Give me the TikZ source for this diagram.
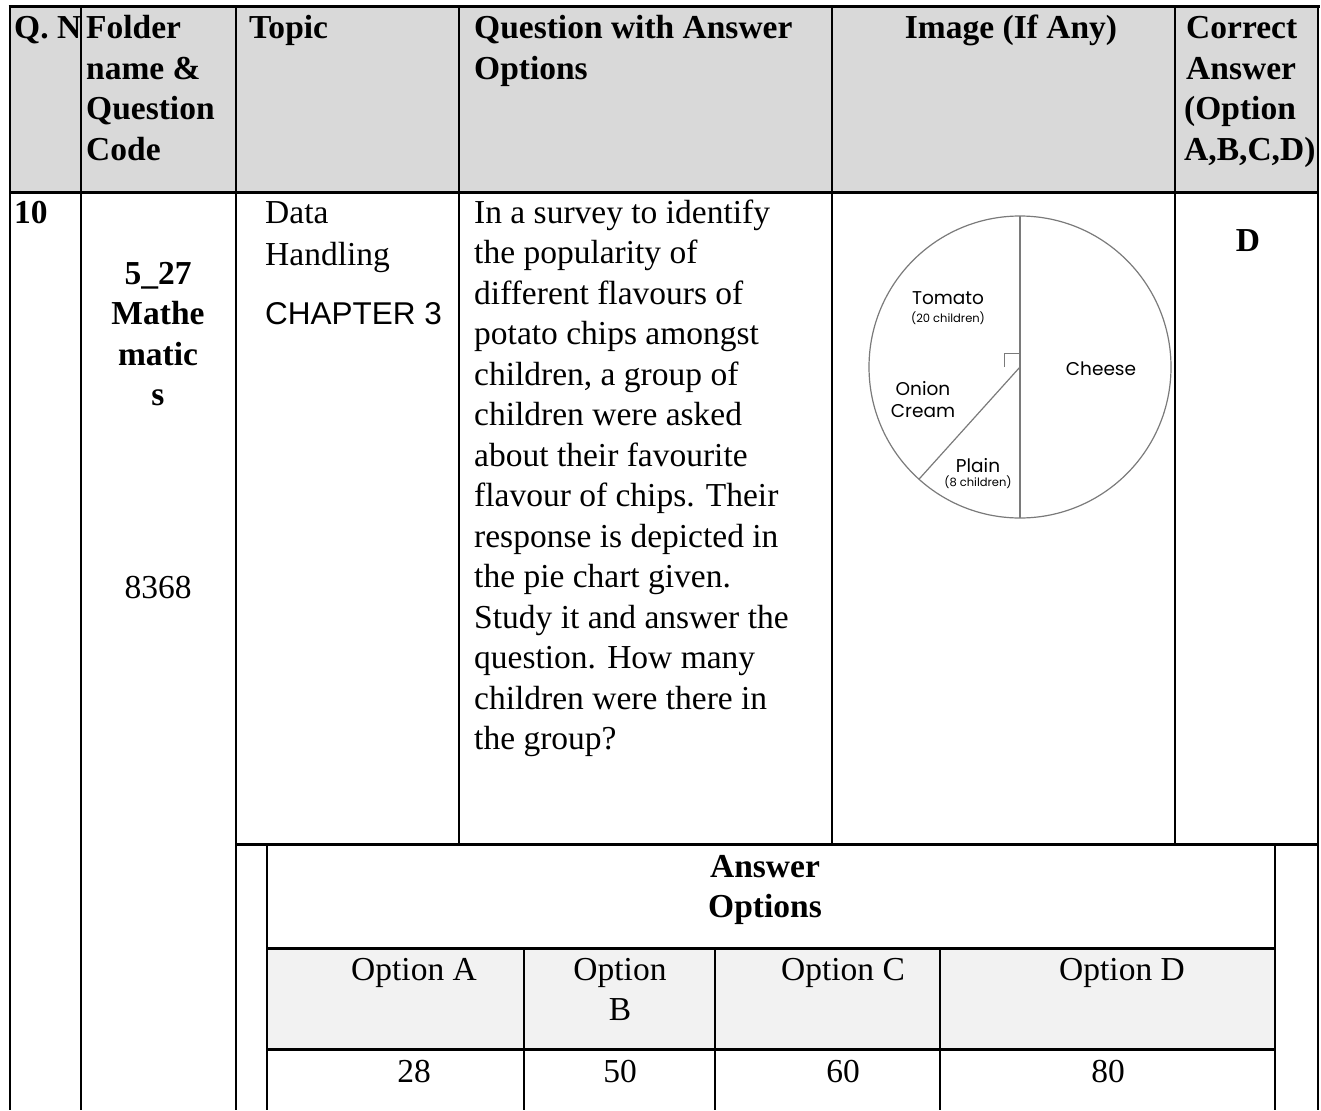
\documentclass[tikz,border=0pt]{standalone}
\usepackage{fontspec}
\setmainfont{Liberation Serif}
\newfontfamily\arialf{Liberation Sans}
\newfontfamily\pief{Poppins}
\definecolor{hdrgray}{HTML}{D9D9D9}
\definecolor{optgray}{HTML}{F2F2F2}
\definecolor{piegray}{HTML}{7A7A7A}
\begin{document}
\begin{tikzpicture}[x=1pt,y=-1pt,
  tl/.style={line width=2pt},
  tk/.style={line width=3pt},
  body/.style={font=\fontsize{33.5}{40.5}\selectfont, inner sep=0pt},
  bbody/.style={font=\fontsize{33.5}{40.5}\selectfont\bfseries, inner sep=0pt},
  chap/.style={font=\arialf\fontsize{31.5}{38}\selectfont, inner sep=0pt},
  pl/.style={font=\pief\fontsize{18.5}{21}\selectfont, inner sep=0pt},
  ps/.style={font=\pief\fontsize{11.5}{13}\selectfont, inner sep=0pt},
  pieline/.style={draw=piegray, line width=1.2pt}
]
\useasboundingbox (0,0) rectangle (1321,1110);
% fills
\fill[hdrgray] (10,7) rectangle (1318,192);
\fill[optgray] (267,948) rectangle (1275,1049);
% outer table lines
\draw[tk] (8.5,7) -- (1319.5,7);
\draw[tl] (10,7) -- (10,1110);
\draw[tl] (81,7) -- (81,1110);
\draw[tl] (236,7) -- (236,1110);
\draw[tl] (459,7) -- (459,844);
\draw[tl] (832,7) -- (832,844);
\draw[tl] (1175,7) -- (1175,844);
\draw[tl] (1318,7) -- (1318,1110);
\draw[tk] (9,192) -- (1319,192);
\draw[tk] (235,844) -- (1319,844);
% inner options table
\draw[tl] (267,844) -- (267,1110);
\draw[tl] (1275,844) -- (1275,1110);
\draw[tk] (266,948) -- (1276,948);
\draw[tk] (266,1049) -- (1276,1049);
\draw[tl] (524,948) -- (524,1110);
\draw[tl] (715,948) -- (715,1110);
\draw[tl] (940,948) -- (940,1110);
% header texts
\node[bbody, anchor=base west] (hq) at (14,39) {Q. N};
\node[bbody, anchor=base west] (hf1) at (86,39) {Folder};
\node[bbody, anchor=base west] (hf2) at (86,79.5) {name \&};
\node[bbody, anchor=base west] (hf3) at (86,120) {Question};
\node[bbody, anchor=base west] (hf4) at (86,160.5) {Code};
\node[bbody, anchor=base west] (ht) at (249,39) {Topic};
\node[bbody, anchor=base west] (hqa1) at (474,39) {Question with Answer};
\node[bbody, anchor=base west] (hqa2) at (474,79.5) {Options};
\node[bbody, anchor=base] (hi) at (1011,39) {Image (If Any)};
\node[bbody, anchor=base west] (hc1) at (1186,39) {Correct};
\node[bbody, anchor=base west] (hc2) at (1186,79.5) {Answer};
\node[bbody, anchor=base west] (hc3) at (1184,120) {(Option};
\node[bbody, anchor=base west] (hc4) at (1184,160.5) {A,B,C,D)};
% row texts
\node[bbody, anchor=base west] (qn) at (14,223) {10};
\node[bbody, anchor=base] (fn1) at (158,284) {5\_27};
\node[bbody, anchor=base] (fn2) at (158,324.5) {Mathe};
\node[bbody, anchor=base] (fn3) at (158,365) {matic};
\node[bbody, anchor=base] (fn4) at (158,405.5) {s};
\node[body, anchor=base] (code) at (158,598) {8368};
\node[body, anchor=base west] (tp1) at (265,223) {Data};
\node[body, anchor=base west] (tp2) at (265,265) {Handling};
\node[chap, anchor=base west] (tp3) at (265,324) {CHAPTER 3};
\node[body, anchor=base west] (q1) at (474,223) {In a survey to identify};
\node[body, anchor=base west] (q2) at (474,263.5) {the popularity of};
\node[body, anchor=base west] (q3) at (474,304) {different flavours of};
\node[body, anchor=base west] (q4) at (474,344.5) {potato chips amongst};
\node[body, anchor=base west] (q5) at (474,385) {children, a group of};
\node[body, anchor=base west] (q6) at (474,425.5) {children were asked};
\node[body, anchor=base west] (q7) at (474,466) {about their favourite};
\node[body, anchor=base west] (q8) at (474,506.5) {flavour of chips. Their};
\node[body, anchor=base west] (q9) at (474,547) {response is depicted in};
\node[body, anchor=base west] (q10) at (474,587.5) {the pie chart given.};
\node[body, anchor=base west] (q11) at (474,628) {Study it and answer the};
\node[body, anchor=base west] (q12) at (474,668.5) {question. How many};
\node[body, anchor=base west] (q13) at (474,709) {children were there in};
\node[body, anchor=base west] (q14) at (474,749.5) {the group?};
\node[bbody, anchor=base] (ans) at (1248,251) {D};
% pie chart
\coordinate (pc) at (1020,367);
\draw[pieline] (pc) circle[radius=151pt];
\draw[pieline] (1020,216) -- (1020,518);
\draw[pieline] (pc) -- ++(228:151pt);
\draw[draw=piegray, line width=1pt] (1004,367) -- (1004,353) -- (1020,353);
\node[pl] (tom) at (948,298) {Tomato};
\node[ps] (tomn) at (948,318) {(20 children)};
\node[pl] (che) at (1101,369) {Cheese};
\node[pl] (oni) at (923,389) {Onion};
\node[pl] (cre) at (923,411) {Cream};
\node[pl] (pla) at (978,466) {Plain};
\node[ps] (plan) at (978,482) {(8 children)};
% answer options
\node[bbody, anchor=base] (ao1) at (765,877) {Answer};
\node[bbody, anchor=base] (ao2) at (765,917.5) {Options};
\node[body, anchor=base] (oa) at (414,980) {Option A};
\node[body, anchor=base] (ob1) at (620,980) {Option};
\node[body, anchor=base] (ob2) at (620,1020.5) {B};
\node[body, anchor=base] (oc) at (843,980) {Option C};
\node[body, anchor=base] (od) at (1122,980) {Option D};
\node[body, anchor=base] (va) at (414,1082) {28};
\node[body, anchor=base] (vb) at (620,1082) {50};
\node[body, anchor=base] (vc) at (843,1082) {60};
\node[body, anchor=base] (vd) at (1108,1082) {80};
\end{tikzpicture}
\end{document}
